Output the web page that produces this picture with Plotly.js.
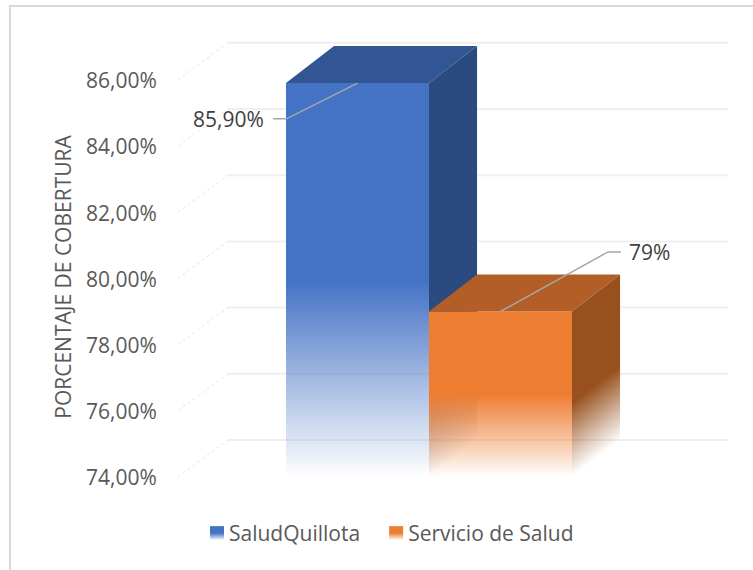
<!DOCTYPE html>
<html>
<head>
<meta charset="utf-8">
<script src="https://cdn.plot.ly/plotly-3.0.1.min.js"></script>
<style>html,body{margin:0;padding:0;background:#fff}</style>
</head>
<body>
<div id="chart" style="width:753px;height:570px"></div>
<script>
// ---- data ----
const categories = ["SaludQuillota", "Servicio de Salud"];
const values = [85.9, 79];
const valueLabels = ["85,90%", "79%"];
const tickValues = [74, 76, 78, 80, 82, 84, 86];
const tickLabels = ["74,00%", "76,00%", "78,00%", "80,00%", "82,00%", "84,00%", "86,00%"];
const yTitle = "PORCENTAJE DE COBERTURA";

// ---- styles & layout constants ----
const M = {l:178, t:31, r:25, b:93};
const xRange = [-1.2552, 2.591];
const yRange = [74, 87.474];
const barDx = 0.336, wallDx = 0.35, depthDy = 1.118;
const FONT = '"Open Sans", sans-serif';
const fronts = ["#4472C4", "#ED7D31"];
const tops = ["#325594", "#B35E26"];
const sides = ["#2B4A80", "#97501E"];
const sideSolidStop = [0.62, 0.55];

const traces = [];
categories.forEach((name, i) => {
  const xa = i === 0 ? 'x' : 'x2', ya = i === 0 ? 'y' : 'y2';
  const v = values[i], L = i - 0.5, R = i + 0.5;
  traces.push({type:'bar', name, x:[i], y:[v], width:[1], xaxis:xa, yaxis:ya,
    marker:{color:fronts[i], line:{width:0}}, hoverinfo:'skip', meta:'front'+i});
  traces.push({type:'scatter', mode:'lines', x:[L,L+barDx,R+barDx,R,L], y:[v,v+depthDy,v+depthDy,v,v],
    xaxis:xa, yaxis:ya, fill:'toself', fillcolor:tops[i], line:{width:0}, showlegend:false, hoverinfo:'skip', meta:'top'+i});
  traces.push({type:'scatter', mode:'lines', x:[R,R+barDx,R+barDx,R,R], y:[v,v+depthDy,yRange[0]+depthDy,yRange[0],v],
    xaxis:xa, yaxis:ya, fill:'toself', fillcolor:sides[i], line:{width:0}, showlegend:false, hoverinfo:'skip', meta:'side'+i});
});

// leader lines, anchored on each bar's top-centre
const leaders = [
  {elbowX:-0.497, elbowY:-1.08, endX:-0.59, textX:-0.64, anchor:'right'},
  {elbowX:0.752, elbowY:1.8, endX:0.843, textX:0.885, anchor:'left'}
];
categories.forEach((name, i) => {
  const l = leaders[i];
  traces.push({type:'scatter', mode:'lines', xaxis:'x2', yaxis:'y2',
    x:[i, i+l.elbowX, i+l.endX], y:[values[i], values[i]+l.elbowY, values[i]+l.elbowY],
    line:{color:'#A6A6A6', width:1.5}, showlegend:false, hoverinfo:'skip'});
});

const annotations = categories.map((name, i) => ({
  xref:'x2', yref:'y2', x:i+leaders[i].textX, y:values[i]+leaders[i].elbowY,
  text:valueLabels[i], showarrow:false, xanchor:leaders[i].anchor, yanchor:'middle',
  font:{family:FONT, size:21, color:'#404040'}
}));

// walls: depth diagonals and back grid lines
const shapes = [];
tickValues.forEach(v => {
  shapes.push({type:'line', layer:'below', xref:'x', yref:'y', x0:xRange[0], y0:v, x1:xRange[0]+wallDx, y1:v+depthDy,
    line:{color:'#E6E6E6', width:1, dash:'dot'}});
  shapes.push({type:'line', layer:'below', xref:'x', yref:'y', x0:xRange[0]+wallDx, y0:v+depthDy, x1:xRange[1], y1:v+depthDy,
    line:{color:'#EFEFEF', width:2}});
});
// outer chart border (open on the right and bottom, it runs off the picture)
shapes.push({type:'rect', layer:'below', xref:'paper', yref:'paper', x0:-0.3055, x1:1.06, y0:-0.3, y1:1.056,
  fillcolor:'rgba(0,0,0,0)', line:{color:'#D9D9D9', width:2}});

const hiddenAxis = {visible:false, showgrid:false, zeroline:false, fixedrange:true};
const layout = {
  width:753, height:570, margin:M, paper_bgcolor:'#fff', plot_bgcolor:'rgba(0,0,0,0)',
  barmode:'overlay', hovermode:false, showlegend:true,
  xaxis:Object.assign({}, hiddenAxis, {range:xRange}),
  xaxis2:Object.assign({}, hiddenAxis, {range:xRange, overlaying:'x'}),
  yaxis2:Object.assign({}, hiddenAxis, {range:yRange, overlaying:'y'}),
  yaxis:{range:yRange, tickmode:'array', tickvals:tickValues, ticktext:tickLabels, showgrid:false, zeroline:false, showline:false,
    ticks:'outside', ticklen:16, tickcolor:'rgba(0,0,0,0)', fixedrange:true,
    tickfont:{family:FONT, size:21, color:'#595959'},
    title:{text:yTitle, standoff:8, font:{family:FONT, size:21, color:'#595959'}}},
  legend:{orientation:'h', x:0.02, xanchor:'left', y:-0.0807, yanchor:'top', traceorder:'normal',
    font:{family:FONT, size:21, color:'#595959'}, itemwidth:30, bgcolor:'rgba(0,0,0,0)'},
  shapes, annotations
};

const gd = document.getElementById('chart');
Plotly.newPlot(gd, traces, layout, {displayModeBar:false, staticPlot:true}).then(() => {
  const NS = 'http://www.w3.org/2000/svg';
  const svg = gd.querySelector('.main-svg');
  let defs = svg.querySelector('defs');
  const fl = gd._fullLayout, xa = fl.xaxis, ya = fl.yaxis;
  const px = v => xa.c2p(v), py = v => ya.c2p(v);

  function grad(id, hex, x1, y1, x2, y2, units, solid) {
    const g = document.createElementNS(NS, 'linearGradient');
    g.setAttribute('id', id);
    g.setAttribute('gradientUnits', units || 'userSpaceOnUse');
    [['x1',x1],['y1',y1],['x2',x2],['y2',y2]].forEach(a => g.setAttribute(a[0], a[1]));
    [[0,1],[solid || 0.5,1],[1,0]].forEach(s => {
      const st = document.createElementNS(NS, 'stop');
      st.setAttribute('offset', s[0]);
      st.setAttribute('stop-color', hex);
      st.setAttribute('stop-opacity', s[1]);
      g.appendChild(st);
    });
    defs.appendChild(g);
    return 'url(#' + id + ')';
  }

  gd.querySelectorAll('.barlayer .trace').forEach(t => {
    const d = t.__data__[0].trace, i = +d.meta.slice(5);
    t.querySelectorAll('path').forEach(p => {
      p.style.fill = grad('front'+i, fronts[i], 0, py(values[i]), 0, py(yRange[0]));
      p.style.fillOpacity = 1;
    });
  });
  gd.querySelectorAll('.scatterlayer .trace').forEach(t => {
    const d = t.__data__[0].trace;
    if (!d.meta || d.meta.indexOf('side') !== 0) return;
    const i = +d.meta.slice(4), h = py(yRange[0]) - py(values[i]);
    // iso-colour lines follow the slope of the receding face
    const ddx = px(barDx) - px(0), ddy = py(0) - py(depthDy);
    const n = Math.hypot(ddx, ddy), nx = ddy / n, ny = ddx / n, len = h * ny;
    const x0 = px(i + 0.5), y0 = py(values[i]);
    const f = t.querySelector('.js-fill');
    if (f) { f.style.fill = grad('side'+i, sides[i], x0, y0, x0 + len*nx, y0 + len*ny, null, sideSolidStop[i]); f.style.fillOpacity = 1; }
  });
  gd.querySelectorAll('.legend .traces').forEach((t, i) => {
    const p = t.querySelector('.legendpoints path');
    if (p) {
      p.setAttribute('d', 'M15,7H1V-7H15Z');
      p.style.fill = grad('leg'+i, fronts[i], 0, 0, 0, 1, 'objectBoundingBox');
    }
    if (i === 1) {
      // reference spacing between the two legend entries is a little wider
      const m = /translate\(([-\d.]+)[ ,]*([-\d.]*)\)/.exec(t.getAttribute('transform') || '');
      if (m) t.setAttribute('transform', 'translate(' + (parseFloat(m[1]) + 3) + ',' + (parseFloat(m[2]) || 0) + ')');
    }
  });
  const sb = gd.querySelector('.legend .scrollbox');
  if (sb) sb.removeAttribute('clip-path');
  // tick labels sit a pixel lower in the reference
  const yl = gd.querySelector('.yaxislayer-above');
  if (yl) yl.setAttribute('transform', 'translate(0,1)');
  // axis title sits lower than the plot-area centre in the reference
  const yt = gd.querySelector('.ytitle');
  if (yt) {
    const b = yt.getBBox();
    const dx = 71 - (b.x + b.width / 2), dy = 277 - (M.t + (570 - M.t - M.b) / 2);
    yt.setAttribute('transform', 'translate(' + dx + ',' + dy + ') ' + (yt.getAttribute('transform') || ''));
  }
});
</script>
</body>
</html>
